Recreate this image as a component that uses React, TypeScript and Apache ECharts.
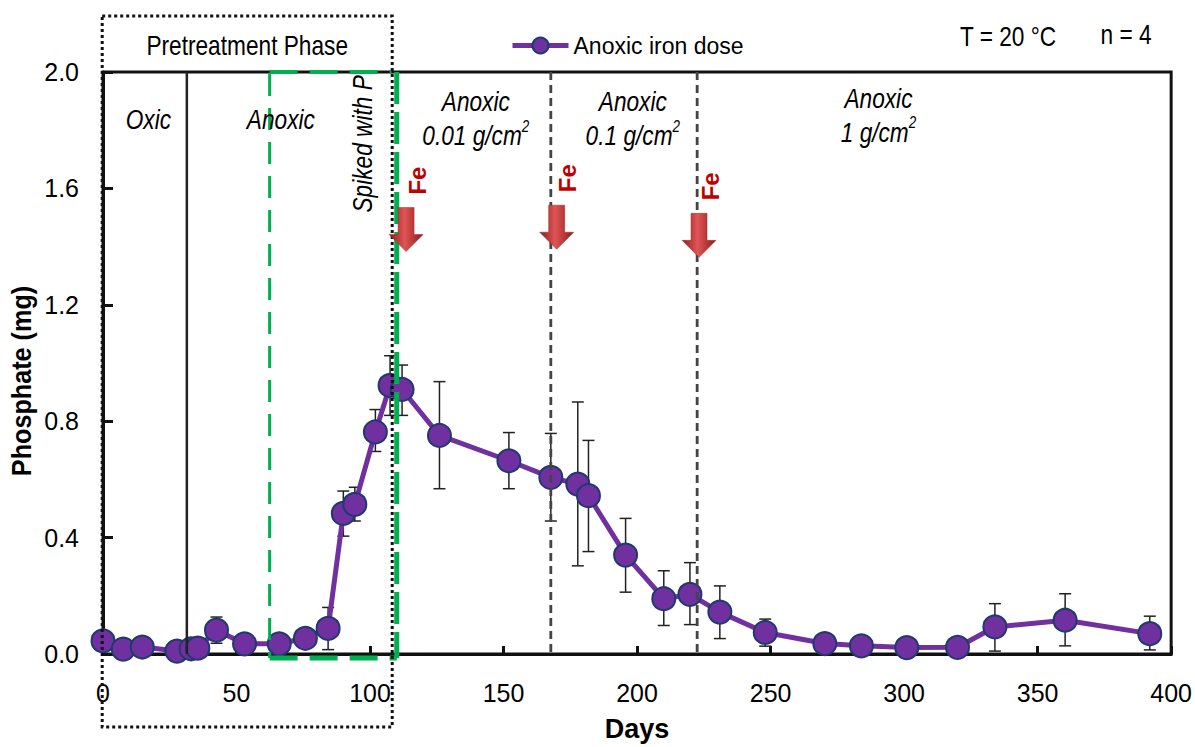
import React, { useEffect, useRef } from "react";
import * as echarts from "echarts";

const FONT = "'Liberation Sans', Arial, sans-serif";
const NARROW = 0.84;

const days = [0, 7.6, 14.7, 27.7, 33, 35.5, 42.5, 53, 66, 75.8, 84.3, 90, 94.3, 102, 107.5, 112, 126, 152, 167.7, 177.8, 181.8, 195.7, 210, 219.8, 231, 248, 270.3, 284, 301, 320, 334, 360.3, 392];
const phosphate = [0.045, 0.017, 0.024, 0.01, 0.018, 0.02, 0.082, 0.035, 0.035, 0.054, 0.088, 0.483, 0.514, 0.763, 0.923, 0.909, 0.751, 0.664, 0.607, 0.584, 0.544, 0.34, 0.19, 0.205, 0.144, 0.074, 0.036, 0.028, 0.022, 0.023, 0.093, 0.116, 0.07];
const errLow: (number | null)[] = [null, null, null, null, null, null, 0.037, null, null, null, 0.015, 0.405, 0.457, 0.696, 0.82, 0.82, 0.568, 0.568, 0.457, 0.303, 0.352, 0.2125, 0.098, 0.101, 0.053, 0.027, null, null, null, null, 0.01, 0.028, 0.014];
const errHigh: (number | null)[] = [null, null, null, null, null, null, 0.127, null, null, null, 0.16, 0.56, 0.573, 0.84, 1.025, 0.993, 0.936, 0.761, 0.758, 0.866, 0.734, 0.466, 0.286, 0.314, 0.234, 0.12, null, null, null, null, 0.173, 0.207, 0.13];

const xTicks = { min: 0, max: 400, interval: 50 };
const yTicks = { min: 0, max: 2, interval: 0.4 };

const oxicBoundaryDay = 31.4;
const feDoseDays = [113.5, 169.9, 223.2];
const feArrowTipValues = [1.383, 1.391, 1.363];
const doseLineDays = [167.7, 222.5];
const greenBox = { left: 62.4, right: 110, topRight: 108 };
const pretreatBox = { left: -0.3, right: 108.3 };

const phaseLabels = [
  { day: 17, value: 1.837, lines: ["Oxic"] },
  { day: 66.6, value: 1.837, lines: ["Anoxic"] },
  { day: 139.6, value: 1.84, lines: ["Anoxic", "0.01"] },
  { day: 198.4, value: 1.84, lines: ["Anoxic", "0.1"] },
  { day: 290.4, value: 1.853, lines: ["Anoxic", "1"] },
];

export default function App() {
  const ref = useRef<HTMLDivElement>(null);
  useEffect(() => {
    document.body.style.margin = "0";
    document.body.style.overflow = "hidden";
    document.documentElement.style.overflow = "hidden";
    const chart = echarts.init(ref.current!, null, { renderer: "svg" });
    const errData = days
      .map((d, i) => [d, errLow[i], errHigh[i]])
      .filter((r) => r[1] !== null);
    const option: any = {
      animation: false,
      backgroundColor: "#fff",
      grid: { left: 103, right: 20, top: 72, bottom: 85, show: true, borderColor: "#111", borderWidth: 3 },
      legend: {
        data: ["Anoxic iron dose"],
        left: 505,
        top: 29,
        itemWidth: 56,
        itemHeight: 20,
        itemGap: 4,
        lineStyle: { width: 5, color: "#7030A0" },
        textStyle: { fontFamily: FONT, fontSize: 23, color: "#000" },
      },
      xAxis: {
        type: "value",
        min: xTicks.min,
        max: xTicks.max,
        interval: xTicks.interval,
        name: "Days",
        nameLocation: "middle",
        nameGap: 61,
        nameTextStyle: { fontFamily: FONT, fontSize: 27, fontWeight: "bold", color: "#000" },
        axisLine: { lineStyle: { color: "#111", width: 3 } },
        axisTick: { inside: true, length: 8, lineStyle: { color: "#111", width: 3 } },
        axisLabel: { fontFamily: FONT, fontSize: 25, color: "#000", margin: 26 },
        splitLine: { show: false },
      },
      yAxis: {
        type: "value",
        min: yTicks.min,
        max: yTicks.max,
        interval: yTicks.interval,
        axisLine: { lineStyle: { color: "#111", width: 3 } },
        axisTick: { inside: true, length: 10, lineStyle: { color: "#111", width: 3 } },
        axisLabel: { fontFamily: FONT, fontSize: 25, color: "#000", margin: 24, formatter: (v: number) => v.toFixed(1) },
        splitLine: { show: false },
      },
      series: [
        {
          type: "custom",
          name: "err",
          data: errData,
          encode: { x: 0, y: [1, 2] },
          z: 2,
          clip: false,
          renderItem: (params: any, api: any) => {
            const x = api.value(0);
            const lo = api.coord([x, api.value(1)]);
            const hi = api.coord([x, api.value(2)]);
            const w = 6;
            const st = { stroke: "#222", lineWidth: 1.5 };
            return {
              type: "group",
              children: [
                { type: "line", shape: { x1: lo[0], y1: lo[1], x2: hi[0], y2: hi[1] }, style: st },
                { type: "line", shape: { x1: lo[0] - w, y1: lo[1], x2: lo[0] + w, y2: lo[1] }, style: st },
                { type: "line", shape: { x1: hi[0] - w, y1: hi[1], x2: hi[0] + w, y2: hi[1] }, style: st },
              ],
            };
          },
        },
        {
          type: "line",
          name: "Anoxic iron dose",
          data: days.map((d, i) => [d, phosphate[i]]),
          symbol: "circle",
          symbolSize: 23,
          clip: false,
          z: 3,
          itemStyle: { color: "#7030A0", borderColor: "#1F3A6E", borderWidth: 2 },
          lineStyle: { color: "#7030A0", width: 5 },
        },
      ],
    };
    chart.setOption(option);

    const px = (x: number, y: number) => chart.convertToPixel({ gridIndex: 0 }, [x, y]) as number[];
    const g: any[] = [];
    const top = px(0, 2)[1];
    const bot = px(0, 0)[1];

    // y-axis title
    g.push({ type: "text", z: 11, x: 22, y: 381, rotation: Math.PI / 2, scaleX: 0.9, style: { text: "Phosphate (mg)", fontFamily: FONT, fontSize: 28, fontWeight: "bold", fill: "#000", align: "center", verticalAlign: "middle" } });

    // pretreatment dotted box
    const pl = px(pretreatBox.left, 0)[0];
    const pr = px(pretreatBox.right, 0)[0];
    g.push({ type: "rect", z: 10, shape: { x: pl, y: 16, width: pr - pl, height: 711 }, style: { fill: "none", stroke: "#111", lineWidth: 3, lineDash: [3, 3] } });
    g.push({ type: "text", z: 10, x: (pl + pr) / 2, y: 45, scaleX: NARROW, style: { text: "Pretreatment Phase", fontFamily: FONT, fontSize: 27, fill: "#000", align: "center", verticalAlign: "middle" } });

    // oxic/anoxic boundary
    const ob = px(oxicBoundaryDay, 0)[0];
    g.push({ type: "line", z: 9, shape: { x1: ob, y1: top, x2: ob, y2: bot }, style: { stroke: "#222", lineWidth: 2.5 } });

    // green dashed box
    const gl = px(greenBox.left, 0)[0];
    const gr = px(greenBox.right, 0)[0];
    const gt = px(greenBox.topRight, 0)[0];
    const green = "#00B050";
    g.push({ type: "line", z: 9, shape: { x1: gl, y1: top + 2, x2: gl, y2: bot + 4 }, style: { stroke: green, lineWidth: 3, lineDash: [22, 12] } });
    g.push({ type: "line", z: 9, shape: { x1: gl, y1: top, x2: gt, y2: top }, style: { stroke: green, lineWidth: 4, lineDash: [28, 12] } });
    g.push({ type: "line", z: 9, shape: { x1: gl, y1: bot + 4, x2: gr, y2: bot + 4 }, style: { stroke: green, lineWidth: 5, lineDash: [28, 12] } });
    g.push({ type: "line", z: 9, shape: { x1: gr, y1: top, x2: gr, y2: bot + 4 }, style: { stroke: green, lineWidth: 5, lineDash: [32, 8] } });

    // dose dashed lines
    doseLineDays.forEach((d) => {
      const x = px(d, 0)[0];
      g.push({ type: "line", z: 9, shape: { x1: x, y1: top, x2: x, y2: bot }, style: { stroke: "#444", lineWidth: 2.8, lineDash: [8, 5] } });
    });

    // Fe arrows
    const grad = new echarts.graphic.LinearGradient(0, 0, 1, 0, [
      { offset: 0, color: "#8e1a1a" },
      { offset: 0.45, color: "#e05555" },
      { offset: 1, color: "#8e1a1a" },
    ]);
    feDoseDays.forEach((d, i) => {
      const [tx, ty] = px(d, feArrowTipValues[i]);
      const sw = 8, hw = 17, hh = 17, len = 44;
      g.push({
        type: "polygon",
        z: 11,
        shape: {
          points: [
            [tx - sw, ty - len], [tx + sw, ty - len], [tx + sw, ty - hh], [tx + hw, ty - hh],
            [tx, ty], [tx - hw, ty - hh], [tx - sw, ty - hh],
          ],
        },
        style: { fill: grad, stroke: "#a02828", lineWidth: 0.5 },
      });
      g.push({
        type: "text", z: 11, x: tx + 11, y: ty - 71, rotation: Math.PI / 2,
        style: { text: "Fe", fontFamily: FONT, fontSize: 24, fontWeight: "bold", fill: "#C00000", align: "center", verticalAlign: "middle" },
      });
    });

    // spiked with P
    const sp = px(97, 1.753);
    g.push({ type: "text", z: 11, x: sp[0], y: sp[1], rotation: Math.PI / 2, scaleX: NARROW, style: { text: "Spiked with P", fontFamily: FONT, fontSize: 27, fontStyle: "italic", fill: "#000", align: "center", verticalAlign: "middle" } });

    // phase labels
    const it = { fontFamily: FONT, fontStyle: "italic", fill: "#000" };
    phaseLabels.forEach((p) => {
      const [x, y] = px(p.day, p.value);
      g.push({
        type: "text", z: 11, x, y, scaleX: NARROW,
        style: {
          text: p.lines.length === 1 ? p.lines[0] : `{a|${p.lines[0]}}\n{n|${p.lines[1]} g/cm}{s|2}`,
          ...it, fontSize: 27, align: "center", verticalAlign: "middle",
          rich: {
            a: { ...it, fontSize: 27, lineHeight: 34 },
            n: { ...it, fontSize: 27, lineHeight: 34 },
            s: { ...it, fontSize: 16, verticalAlign: "top", lineHeight: 34, padding: [0, 0, 10, 0] },
          },
        },
      });
    });

    g.push({ type: "text", z: 11, x: 1008, y: 36, scaleX: NARROW, style: { text: "T = 20 °C", fontFamily: FONT, fontSize: 27, fill: "#000", align: "center", verticalAlign: "middle" } });
    g.push({ type: "text", z: 11, x: 1126, y: 34, scaleX: NARROW, style: { text: "n = 4", fontFamily: FONT, fontSize: 27, fill: "#000", align: "center", verticalAlign: "middle" } });

    chart.setOption({ graphic: g });
    return () => chart.dispose();
  }, []);
  return <div ref={ref} style={{ position: "fixed", left: 0, top: 0, width: 1195, height: 747, overflow: "hidden" }} />;
}
